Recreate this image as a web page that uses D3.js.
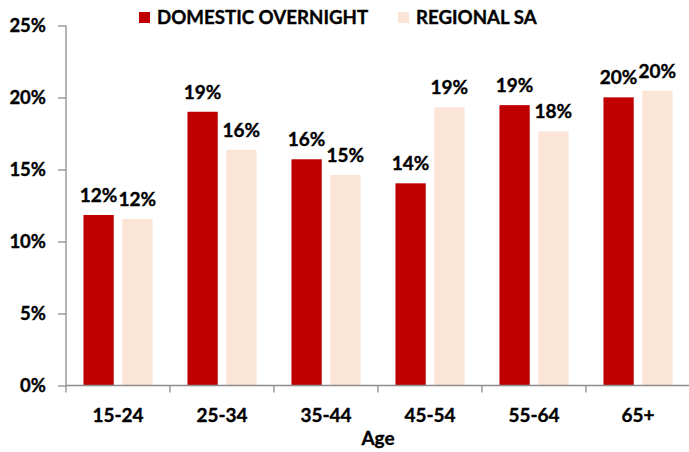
<!DOCTYPE html>
<html>
<head>
<meta charset="utf-8">
<script src="https://cdn.jsdelivr.net/npm/d3@7"></script>
<style>
  html, body { margin: 0; padding: 0; background: #fff; }
  svg { display: block; font-family: Lato, "Open Sans", sans-serif; font-weight: bold; }
  svg text { stroke: #000; stroke-width: 0.35px; }
</style>
</head>
<body>
<svg id="chart" width="689" height="452"></svg>
<script>
const categories = ["15-24", "25-34", "35-44", "45-54", "55-64", "65+"];
const seriesNames = ["DOMESTIC OVERNIGHT", "REGIONAL SA"];
const domesticOvernight = [0.1184, 0.1901, 0.1571, 0.1404, 0.1947, 0.2001];
const regionalSA = [0.1156, 0.1637, 0.1462, 0.1932, 0.1765, 0.2047];
const seriesColors = ["#C00000", "#FBE5D6"];
const yTicks = [0, 0.05, 0.10, 0.15, 0.20, 0.25];
const xTitle = "Age";

const svg = d3.select("#chart");
const mLeft = 66, mRight = 690, mTop = 25.5, mBottom = 385.5;

const x = d3.scaleBand().domain(categories).range([mLeft, mRight]).padding(0);
const x1 = d3.scaleBand().domain(seriesNames).range([0, x.bandwidth()])
  .paddingInner(0.22).paddingOuter(0.45);
const y = d3.scaleLinear().domain([0, 0.25]).range([mBottom, mTop]);
const color = d3.scaleOrdinal().domain(seriesNames).range(seriesColors);
const fmt = d3.format(".0%");

const rows = categories.map((c, i) => ({
  cat: c,
  vals: [
    { s: seriesNames[0], v: domesticOvernight[i] },
    { s: seriesNames[1], v: regionalSA[i] }
  ]
}));

// bars
const g = svg.append("g");
const grp = g.selectAll("g.cat").data(rows).join("g")
  .attr("class", "cat")
  .attr("transform", d => `translate(${x(d.cat)},0)`);
grp.selectAll("rect").data(d => d.vals).join("rect")
  .attr("x", d => x1(d.s))
  .attr("width", x1.bandwidth())
  .attr("y", d => y(d.v))
  .attr("height", d => y(0) - y(d.v))
  .attr("fill", d => color(d.s));
grp.selectAll("text").data(d => d.vals).join("text")
  .attr("x", d => x1(d.s) + x1.bandwidth() / 2)
  .attr("y", d => y(d.v) - 13)
  .attr("text-anchor", "middle")
  .attr("font-size", 19)
  .attr("fill", "#000")
  .text(d => fmt(d.v));

// y axis
const yAxis = svg.append("g")
  .attr("transform", `translate(${mLeft},0)`)
  .call(d3.axisLeft(y).tickValues(yTicks).tickFormat(fmt).tickSize(8).tickPadding(12));
yAxis.selectAll("path,line").attr("stroke", "#8c8c8c").attr("stroke-width", 1.3);
yAxis.select(".domain").attr("d", `M0,${mTop}V${mBottom}`);
yAxis.selectAll("text").attr("font-size", 18.5).attr("fill", "#000")
  .attr("font-family", "Lato, sans-serif").attr("font-weight", "bold");

// x axis
const xAxis = svg.append("g")
  .attr("transform", `translate(0,${mBottom})`)
  .call(d3.axisBottom(x).tickSize(0).tickPadding(23));
xAxis.select(".domain").attr("stroke", "#8c8c8c").attr("stroke-width", 1.3)
  .attr("d", `M${mLeft},0H${mRight}`);
xAxis.selectAll("text").attr("font-size", 19).attr("fill", "#000")
  .attr("font-family", "Lato, sans-serif").attr("font-weight", "bold");
// boundary ticks
xAxis.selectAll("line.bnd").data(categories).join("line")
  .attr("class", "bnd")
  .attr("x1", d => x(d)).attr("x2", d => x(d))
  .attr("y1", 0).attr("y2", 7)
  .attr("stroke", "#8c8c8c").attr("stroke-width", 1.3);

svg.append("text")
  .attr("x", (mLeft + mRight) / 2)
  .attr("y", 445)
  .attr("text-anchor", "middle")
  .attr("font-size", 19)
  .text(xTitle);

// legend
const legendPos = [139, 398];
const lg = svg.selectAll("g.leg").data(seriesNames).join("g")
  .attr("class", "leg")
  .attr("transform", (d, i) => `translate(${legendPos[i]},12)`);
lg.append("rect").attr("width", 11).attr("height", 11).attr("fill", d => color(d))
  .attr("stroke", "none");
lg.append("text").attr("x", 18).attr("y", 12).attr("font-size", 18.7).text(d => d);
</script>
</body>
</html>
